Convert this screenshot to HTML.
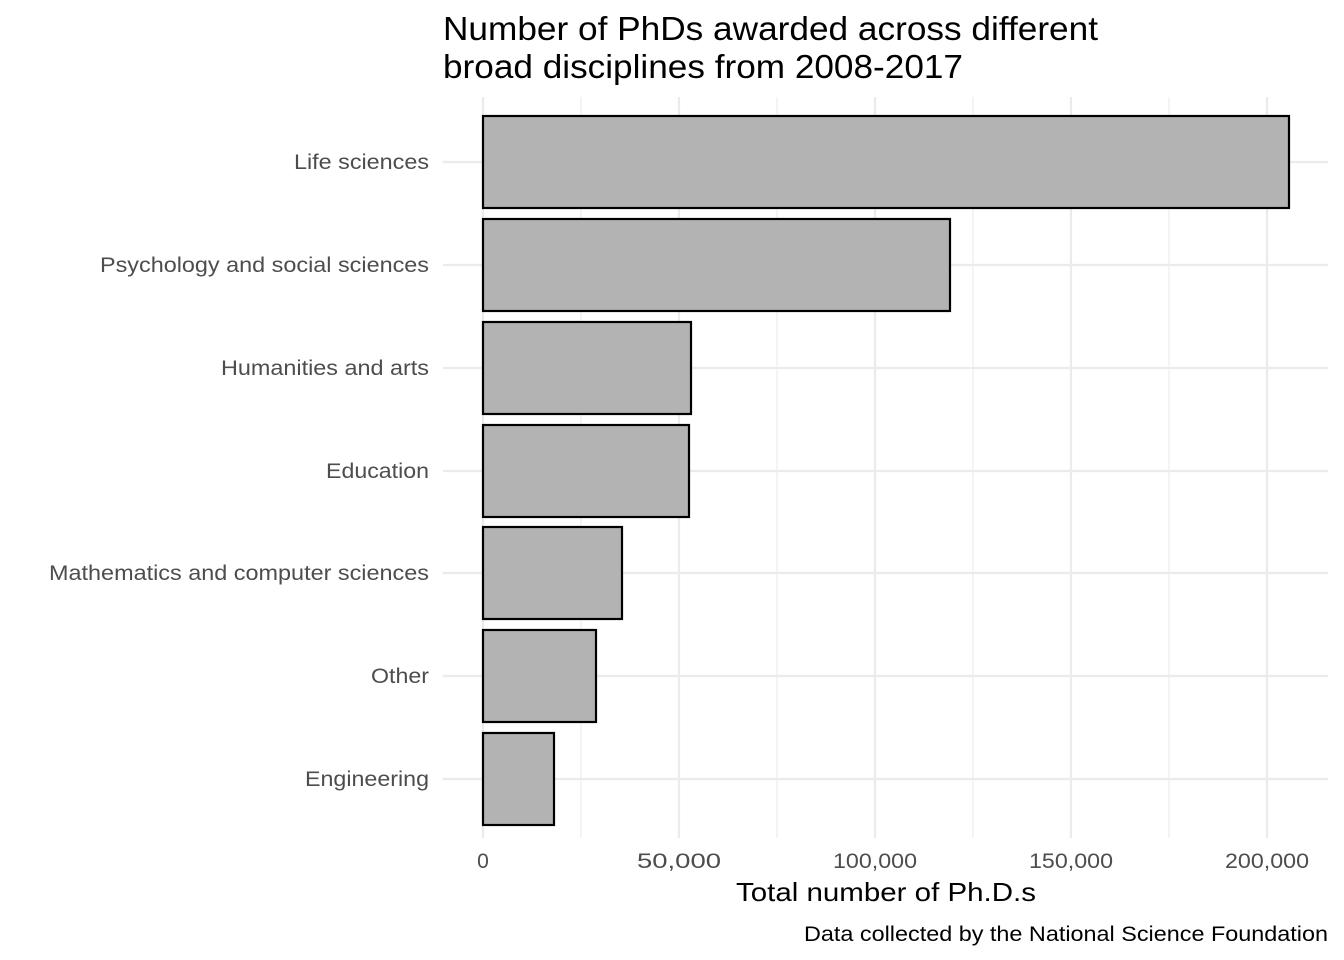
<!DOCTYPE html>
<html><head><meta charset="utf-8"><style>
html,body{margin:0;padding:0;background:#fff;}
svg{display:block;font-family:"Liberation Sans",Arial,sans-serif;}
</style></head><body>
<svg width="1344" height="960" viewBox="0 0 1344 960" xmlns="http://www.w3.org/2000/svg">
<rect width="1344" height="960" fill="#fff"/>
<g stroke="#ebebeb" stroke-width="1.1">
<line x1="581" y1="97" x2="581" y2="838"/><line x1="777" y1="97" x2="777" y2="838"/>
<line x1="973" y1="97" x2="973" y2="838"/><line x1="1169" y1="97" x2="1169" y2="838"/>
</g>
<g stroke="#ebebeb" stroke-width="2.2">
<line x1="483" y1="97" x2="483" y2="838"/><line x1="679" y1="97" x2="679" y2="838"/>
<line x1="875" y1="97" x2="875" y2="838"/><line x1="1071" y1="97" x2="1071" y2="838"/>
<line x1="1267" y1="97" x2="1267" y2="838"/>
<line x1="443" y1="162" x2="1328" y2="162"/><line x1="443" y1="265" x2="1328" y2="265"/>
<line x1="443" y1="368" x2="1328" y2="368"/><line x1="443" y1="471" x2="1328" y2="471"/>
<line x1="443" y1="573" x2="1328" y2="573"/><line x1="443" y1="676" x2="1328" y2="676"/>
<line x1="443" y1="779" x2="1328" y2="779"/>
</g>
<g fill="#b3b3b3" stroke="#000" stroke-width="2.2">
<rect x="483" y="116" width="806" height="92"/>
<rect x="483" y="219" width="467" height="92"/>
<rect x="483" y="322" width="208" height="92"/>
<rect x="483" y="425" width="206" height="92"/>
<rect x="483" y="527" width="139" height="92"/>
<rect x="483" y="630" width="113" height="92"/>
<rect x="483" y="733" width="71" height="92"/>
</g>
<g fill="#4d4d4d" font-size="21" text-anchor="end" lengthAdjust="spacingAndGlyphs">
<text x="429" y="169" textLength="135" lengthAdjust="spacingAndGlyphs">Life sciences</text>
<text x="429" y="272" textLength="329" lengthAdjust="spacingAndGlyphs">Psychology and social sciences</text>
<text x="429" y="375" textLength="208" lengthAdjust="spacingAndGlyphs">Humanities and arts</text>
<text x="429" y="478" textLength="103" lengthAdjust="spacingAndGlyphs">Education</text>
<text x="429" y="580" textLength="380" lengthAdjust="spacingAndGlyphs">Mathematics and computer sciences</text>
<text x="429" y="683" textLength="58" lengthAdjust="spacingAndGlyphs">Other</text>
<text x="429" y="786" textLength="124" lengthAdjust="spacingAndGlyphs">Engineering</text>
</g>
<g fill="#4d4d4d" font-size="21" text-anchor="middle">
<text x="483" y="868">0</text>
<text x="679" y="868" textLength="84" lengthAdjust="spacingAndGlyphs">50,000</text>
<text x="875" y="868" textLength="84" lengthAdjust="spacingAndGlyphs">100,000</text>
<text x="1071" y="868" textLength="84" lengthAdjust="spacingAndGlyphs">150,000</text>
<text x="1267" y="868" textLength="84" lengthAdjust="spacingAndGlyphs">200,000</text>
</g>
<text x="886" y="901" font-size="26" text-anchor="middle" fill="#000" textLength="300" lengthAdjust="spacingAndGlyphs">Total number of Ph.D.s</text>
<text x="1328" y="941" font-size="21" text-anchor="end" fill="#000" textLength="524" lengthAdjust="spacingAndGlyphs">Data collected by the National Science Foundation</text>
<text x="443" y="40" font-size="33" fill="#000" textLength="655" lengthAdjust="spacingAndGlyphs">Number of PhDs awarded across different</text>
<text x="443" y="78" font-size="33" fill="#000" textLength="520" lengthAdjust="spacingAndGlyphs">broad disciplines from 2008-2017</text>
</svg>
</body></html>
